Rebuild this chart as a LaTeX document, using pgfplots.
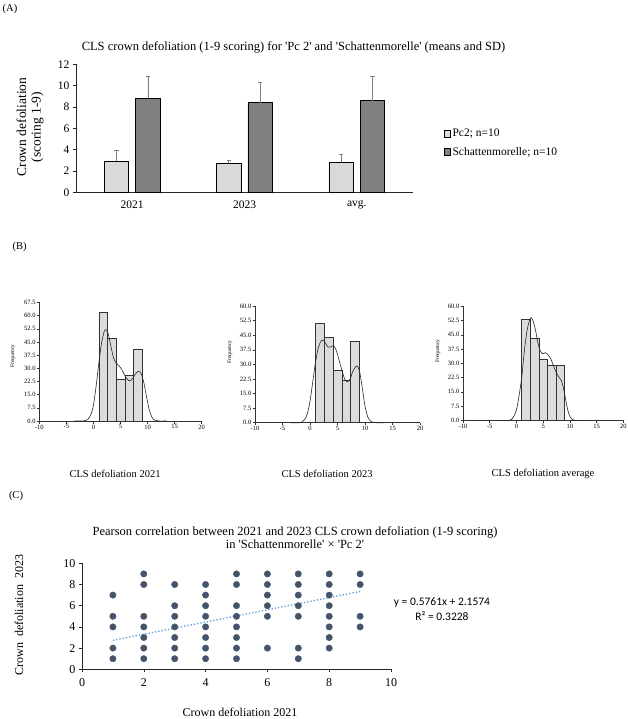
\documentclass[border=0pt]{standalone}
\usepackage{pgfplots}
\usepackage{pgfplotstable}
\pgfplotsset{compat=1.18}
\usepackage{fontspec}
\setmainfont{Liberation Serif}[Ligatures=TeXOff]
\newfontfamily\calfont{Carlito}

\definecolor{pclight}{HTML}{D9D9D9}
\definecolor{schdark}{HTML}{808080}
\definecolor{histfill}{HTML}{DCDCDC}
\definecolor{dotcol}{HTML}{44546A}
\definecolor{trendcol}{HTML}{5B9BD5}

\newcommand{\fs}[1]{\fontsize{#1}{#1}\selectfont}

% histogram bins (left edges, last row closes the interval)
\pgfplotstableread{
x y
1.0 62
2.6 47
4.2 24
5.8 26
7.4 41
9.0 41
}\histA
\pgfplotstableread{
x y
1.0 51
2.6 44
4.2 27
5.8 22
7.4 42
9.0 42
}\histB
\pgfplotstableread{
x y
1.0 53
2.6 43
4.2 32
5.8 29
7.4 29
9.0 29
}\histC

% crown defoliation scores, 2021 vs 2023
\pgfplotstableread{
x y
1 7
1 5
1 4
1 2
1 1
2 9
2 8
2 5
2 4
2 3
2 2
2 1
3 8
3 6
3 5
3 4
3 3
3 2
3 1
4 8
4 7
4 6
4 5
4 4
4 3
4 2
4 1
5 9
5 8
5 6
5 5
5 4
5 3
5 2
5 1
6 9
6 8
6 7
6 6
6 5
6 2
7 9
7 8
7 7
7 6
7 5
7 2
7 1
8 9
8 8
8 7
8 6
8 5
8 4
8 3
8 2
9 9
9 8
9 5
9 4
}\scores

\pgfplotsset{
  histax/.style={
    scale only axis, xmin=-10, xmax=20, ymin=0,
    axis lines=left, axis line style={-, line width=0.6pt, black!80},
    xtick={-10,-5,...,20}, tick align=outside,
    major tick length=2.5pt, tick style={black!80, line width=0.5pt},
    tick label style={font=\fs{6.5}, inner sep=1pt},
    /pgf/number format/assume math mode=true,
    yticklabel style={/pgf/number format/.cd, fixed, fixed zerofill, precision=1},
    clip=false,
  },
  histbars/.style={ybar interval, fill=histfill, draw=black!80, line width=0.6pt},
  kde/.style={smooth, black!85, line width=0.6pt, mark=none},
}

\begin{document}
\begin{tikzpicture}
\path[use as bounding box] (0pt,0pt) rectangle (627pt,-719pt);

% ---------------- (A) ----------------
\node[font=\fs{10.5}] at (10pt,-9pt) {(A)};
\node[font=\fs{12.5}] at (293.5pt,-47pt)
  {CLS crown defoliation (1-9 scoring) for 'Pc 2' and 'Schattenmorelle' (means and SD)};
\node[rotate=90, align=center, font=\fontsize{13.5}{14.5}\selectfont] at (30pt,-127pt)
  {Crown defoliation\\(scoring 1-9)};

\begin{axis}[
  at={(76pt,-192.3pt)}, anchor=south west,
  scale only axis, width=337pt, height=128pt,
  xmin=-0.5, xmax=2.5, ymin=0, ymax=12,
  ytick={0,2,...,12},
  xtick={0,1,2}, xticklabels={2021,2023,avg.},
  axis lines=left, axis line style={-, line width=0.8pt, black!85},
  x tick style={draw=none}, y tick style={black!85, line width=0.6pt},
  tick align=outside, major tick length=3pt,
  /pgf/number format/assume math mode=true,
  tick label style={font=\fs{11.5}},
  xticklabel style={yshift=-2pt},
  ybar, bar width=24.5pt,
  legend image code/.code={\draw[#1] (0pt,-3.4pt) rectangle (6.8pt,3.4pt);},
  legend style={at={(1.09,0.385)}, anchor=west, draw=none, fill=none,
    font=\fs{11.5}, row sep=6pt, inner sep=0pt,
    nodes={inner sep=1.5pt}},
  legend cell align=left,
  clip=false,
]
\addplot[fill=pclight, draw=black, line width=0.7pt, bar shift=-15.7pt,
  error bars/.cd, y dir=plus, y explicit,
  error bar style={schdark, line width=0.7pt},
  error mark options={rotate=90, mark size=2.2pt, schdark, line width=0.7pt}]
  coordinates {(0,2.9) +- (0,1.0) (1,2.7) +- (0,0.3) (2,2.8) +- (0,0.8)};
\addplot[fill=schdark, draw=black, line width=0.7pt, bar shift=15.7pt,
  error bars/.cd, y dir=plus, y explicit,
  error bar style={schdark, line width=0.7pt},
  error mark options={rotate=90, mark size=2.2pt, schdark, line width=0.7pt}]
  coordinates {(0,8.8) +- (0,2.1) (1,8.4) +- (0,1.9) (2,8.6) +- (0,2.3)};
\legend{Pc2; n=10, Schattenmorelle; n=10}
\end{axis}

% ---------------- (B) ----------------
\node[font=\fs{10.5}] at (19.7pt,-247pt) {(B)};

\begin{axis}[histax, at={(39.3pt,-421pt)}, anchor=south west,
  width=162.4pt, height=118.6pt, ymax=67.5, ytick={0,7.5,...,67.5}]
\addplot[histbars] table {\histA};
\addplot[kde] coordinates {(-3.5,0) (-2,0) (-1.5,0.2) (-1,1) (-0.5,3.5) (0,9)
  (0.5,20) (1,33) (1.5,44.5) (2,51) (2.3,52) (2.7,50) (3.2,43) (3.7,36) (4.2,33)
  (4.7,31.5) (5.2,29.5) (5.7,26.5) (6.2,24) (6.7,22.8) (7.2,24) (7.7,26.5)
  (8.3,28.3) (8.8,27) (9.3,22) (9.8,14) (10.3,6.5) (10.8,2.2) (11.3,0.5)
  (12,0) (13.5,0)};
\end{axis}
\node[rotate=90, font=\fs{5.5}] at (13pt,-356pt) {Frequency};
\node[font=\fs{10.5}] at (115pt,-474pt) {CLS defoliation 2021};

\begin{axis}[histax, at={(255pt,-422.7pt)}, anchor=south west,
  width=165pt, height=116.7pt, ymax=60, ytick={0,7.5,...,60}]
\addplot[histbars] table {\histB};
\addplot[kde] coordinates {(-3.5,0) (-2,0) (-1.5,0.3) (-1,1.5) (-0.5,4.5) (0,11)
  (0.5,21) (1,31) (1.5,38.5) (2,42) (2.3,42.5) (2.8,41) (3.3,38.8) (3.8,39)
  (4.3,39.5) (4.8,37) (5.3,32) (5.8,27) (6.3,22.5) (6.8,21) (7.3,22.5) (7.8,26.5)
  (8.5,29.2) (9,26.5) (9.5,18) (10,8.5) (10.5,3) (11,0.8) (11.5,0.1) (12,0)
  (13.5,0)};
\end{axis}
\node[rotate=90, font=\fs{5.5}] at (230pt,-352pt) {Frequency};
\node[font=\fs{10.5}] at (327pt,-474pt) {CLS defoliation 2023};

\begin{axis}[histax, at={(463pt,-420.3pt)}, anchor=south west,
  width=160.3pt, height=114pt, ymax=60, ytick={0,7.5,...,60}]
\addplot[histbars] table {\histC};
\addplot[kde] coordinates {(-3.5,0) (-1.5,0) (-1,0.3) (-0.5,2) (0,5.5) (0.5,13)
  (1,23) (1.5,37) (2,47.5) (2.5,53) (2.8,54) (3.2,51.5) (3.6,47) (4,41) (4.4,37)
  (4.9,35) (5.4,35.6) (5.9,34.5) (6.4,32.5) (6.9,29) (7.4,25.5) (7.9,23)
  (8.4,21) (8.8,17) (9.2,11) (9.6,5.5) (10,2) (10.5,0.4) (11,0) (13.5,0)};
\end{axis}
\node[rotate=90, font=\fs{5.5}] at (438pt,-351pt) {Frequency};
\node[font=\fs{10.5}] at (543pt,-474pt) {CLS defoliation average};

% ---------------- (C) ----------------
\node[font=\fs{10.5}] at (16pt,-496pt) {(C)};
\node[align=center, font=\fontsize{12.5}{13.5}\selectfont] at (295pt,-537.5pt)
  {Pearson correlation between 2021 and 2023 CLS crown defoliation (1-9 scoring)\\
   in 'Schattenmorelle' × 'Pc 2'};
\node[rotate=90, font=\fs{12}] at (19pt,-615pt) {Crown\ \ defoliation\ \ 2023};
\node[font=\fs{12}] at (240pt,-712pt) {Crown defoliation 2021};

\begin{axis}[
  at={(82pt,-669.3pt)}, anchor=south west,
  scale only axis, width=309pt, height=106pt,
  xmin=0, xmax=10, ymin=0, ymax=10,
  xtick={0,2,...,10}, ytick={0,2,...,10},
  axis lines=left, axis line style={-, line width=0.8pt, black!85},
  tick align=outside, major tick length=3pt,
  tick style={black!85, line width=0.6pt},
  /pgf/number format/assume math mode=true,
  tick label style={font=\fs{12}},
  xticklabel style={yshift=-3pt},
  clip=false,
]
\addplot[only marks, mark=*, mark size=3.2pt, dotcol, mark options={draw=dotcol, fill=dotcol}]
  table {\scores};
\addplot[trendcol, dotted, line width=1.3pt] coordinates {(1,2.7335) (9,7.3423)};
\node[align=center, font=\calfont\fontsize{11.5}{15}\selectfont] at (axis cs:11.65,5.7)
  {y = 0.5761x + 2.1574\\R² = 0.3228};
\end{axis}

\end{tikzpicture}
\end{document}
